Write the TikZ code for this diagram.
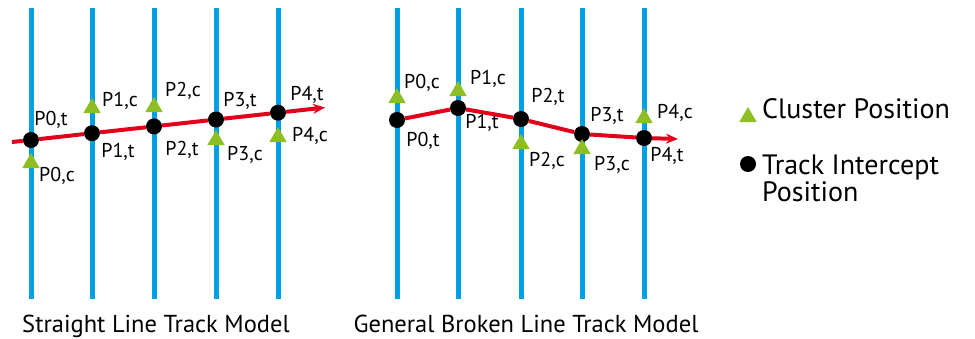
\documentclass[tikz,border=0pt]{standalone}
\usepackage{fontspec}
\setmainfont{PT Sans}
\usetikzlibrary{positioning,shapes.geometric,arrows.meta}
\definecolor{planecolor}{HTML}{00A0E3}
\definecolor{trackcolor}{HTML}{E3001B}
\definecolor{clustercolor}{HTML}{8DBE23}

\begin{document}
\begin{tikzpicture}[x=1pt, y=-1pt, >={Stealth[length=12pt,width=10pt]},
  plane/.style={planecolor, line width=5pt},
  track/.style={trackcolor, line width=4pt},
  hit/.style={circle, fill=black, minimum size=16pt, inner sep=0pt},
  clus/.style={regular polygon, regular polygon sides=3, fill=clustercolor, minimum size=20pt, inner sep=0pt},
  lab/.style={font=\fontsize{20}{22}\selectfont, inner sep=0pt, text height=1.4ex, text depth=0pt},
  leg/.style={font=\fontsize{28}{24}\selectfont, inner sep=0pt},
  modelcaption/.style={font=\fontsize{24.5}{28}\selectfont, inner sep=0pt}]
  \useasboundingbox (0,0) rectangle (975,338);
  % detector planes
  \foreach \x in {31,92,154,216,278,397,458,521,582,644}
    \draw[plane] (\x,8) -- (\x,299);

  % straight line track model
  \node[hit] (t0) at (31,140) {};
  \node[hit] (t1) at (92,133.2) {};
  \node[hit] (t2) at (154,126.4) {};
  \node[hit] (t3) at (216,119.5) {};
  \node[hit] (t4) at (278,112.7) {};
  \node[clus] (c0) at (31,163) {};
  \node[clus] (c1) at (92,108) {};
  \node[clus] (c2) at (154,107) {};
  \node[clus] (c3) at (216,140) {};
  \node[clus] (c4) at (278,137) {};
  \coordinate (s) at (12,142);
  \coordinate (e) at (325,107.5);
  \draw[track,->] (s) -- (t0) -- (t1) -- (t2) -- (t3) -- (t4) -- (e);
  \node[lab] (l0t) at (51,122) {P0,t};
  \node[lab] (l0c) at (57,178) {P0,c};
  \node[lab] (l1c) at (120,103) {P1,c};
  \node[lab] (l1t) at (118,154) {P1,t};
  \node[lab] (l2c) at (183,93) {P2,c};
  \node[lab] (l2t) at (182,152) {P2,t};
  \node[lab] (l3t) at (240,103) {P3,t};
  \node[lab] (l3c) at (245,157) {P3,c};
  \node[lab] (l4t) at (307,97) {P4,t};
  \node[lab] (l4c) at (310,138) {P4,c};

  % general broken line track model
  \node[hit] (u0) at (397,120) {};
  \node[hit] (u1) at (458,108) {};
  \node[hit] (u2) at (521,119) {};
  \node[hit] (u3) at (582,134) {};
  \node[hit] (u4) at (644,138) {};
  \node[clus] (d0) at (397,98) {};
  \node[clus] (d1) at (458,91) {};
  \node[clus] (d2) at (521,144) {};
  \node[clus] (d3) at (582,149) {};
  \node[clus] (d4) at (644,118) {};
  \coordinate (ue) at (678,139);
  \draw[track,->] (u0) -- (u1) -- (u2) -- (u3) -- (u4) -- (ue);
  \node[lab] (m0c) at (422,85) {P0,c};
  \node[lab] (m1c) at (488,81) {P1,c};
  \node[lab] (m2t) at (548,99) {P2,t};
  \node[lab] (m3t) at (607,118) {P3,t};
  \node[lab] (m4c) at (675,115) {P4,c};
  \node[lab] (m0t) at (423,143) {P0,t};
  \node[lab] (m1t) at (482,125) {P1,t};
  \node[lab] (m2c) at (547,163) {P2,c};
  \node[lab] (m3c) at (612,167) {P3,c};
  \node[lab] (m4t) at (667,158) {P4,t};

  % legend
  \node[clus] (legc) at (748,117) {};
  \node[hit] (legt) at (748,164) {};
  \node[leg, anchor=west] (legctext) at (762,109) {Cluster Position};
  \node[leg, anchor=north west, align=left] (legttext) at (762,155) {Track Intercept\\Position};

  % captions
  \node[modelcaption, anchor=base] (capl) at (156,332) {Straight Line Track Model};
  \node[modelcaption, anchor=base] (capr) at (526,332) {General Broken Line Track Model};
\end{tikzpicture}
\end{document}
